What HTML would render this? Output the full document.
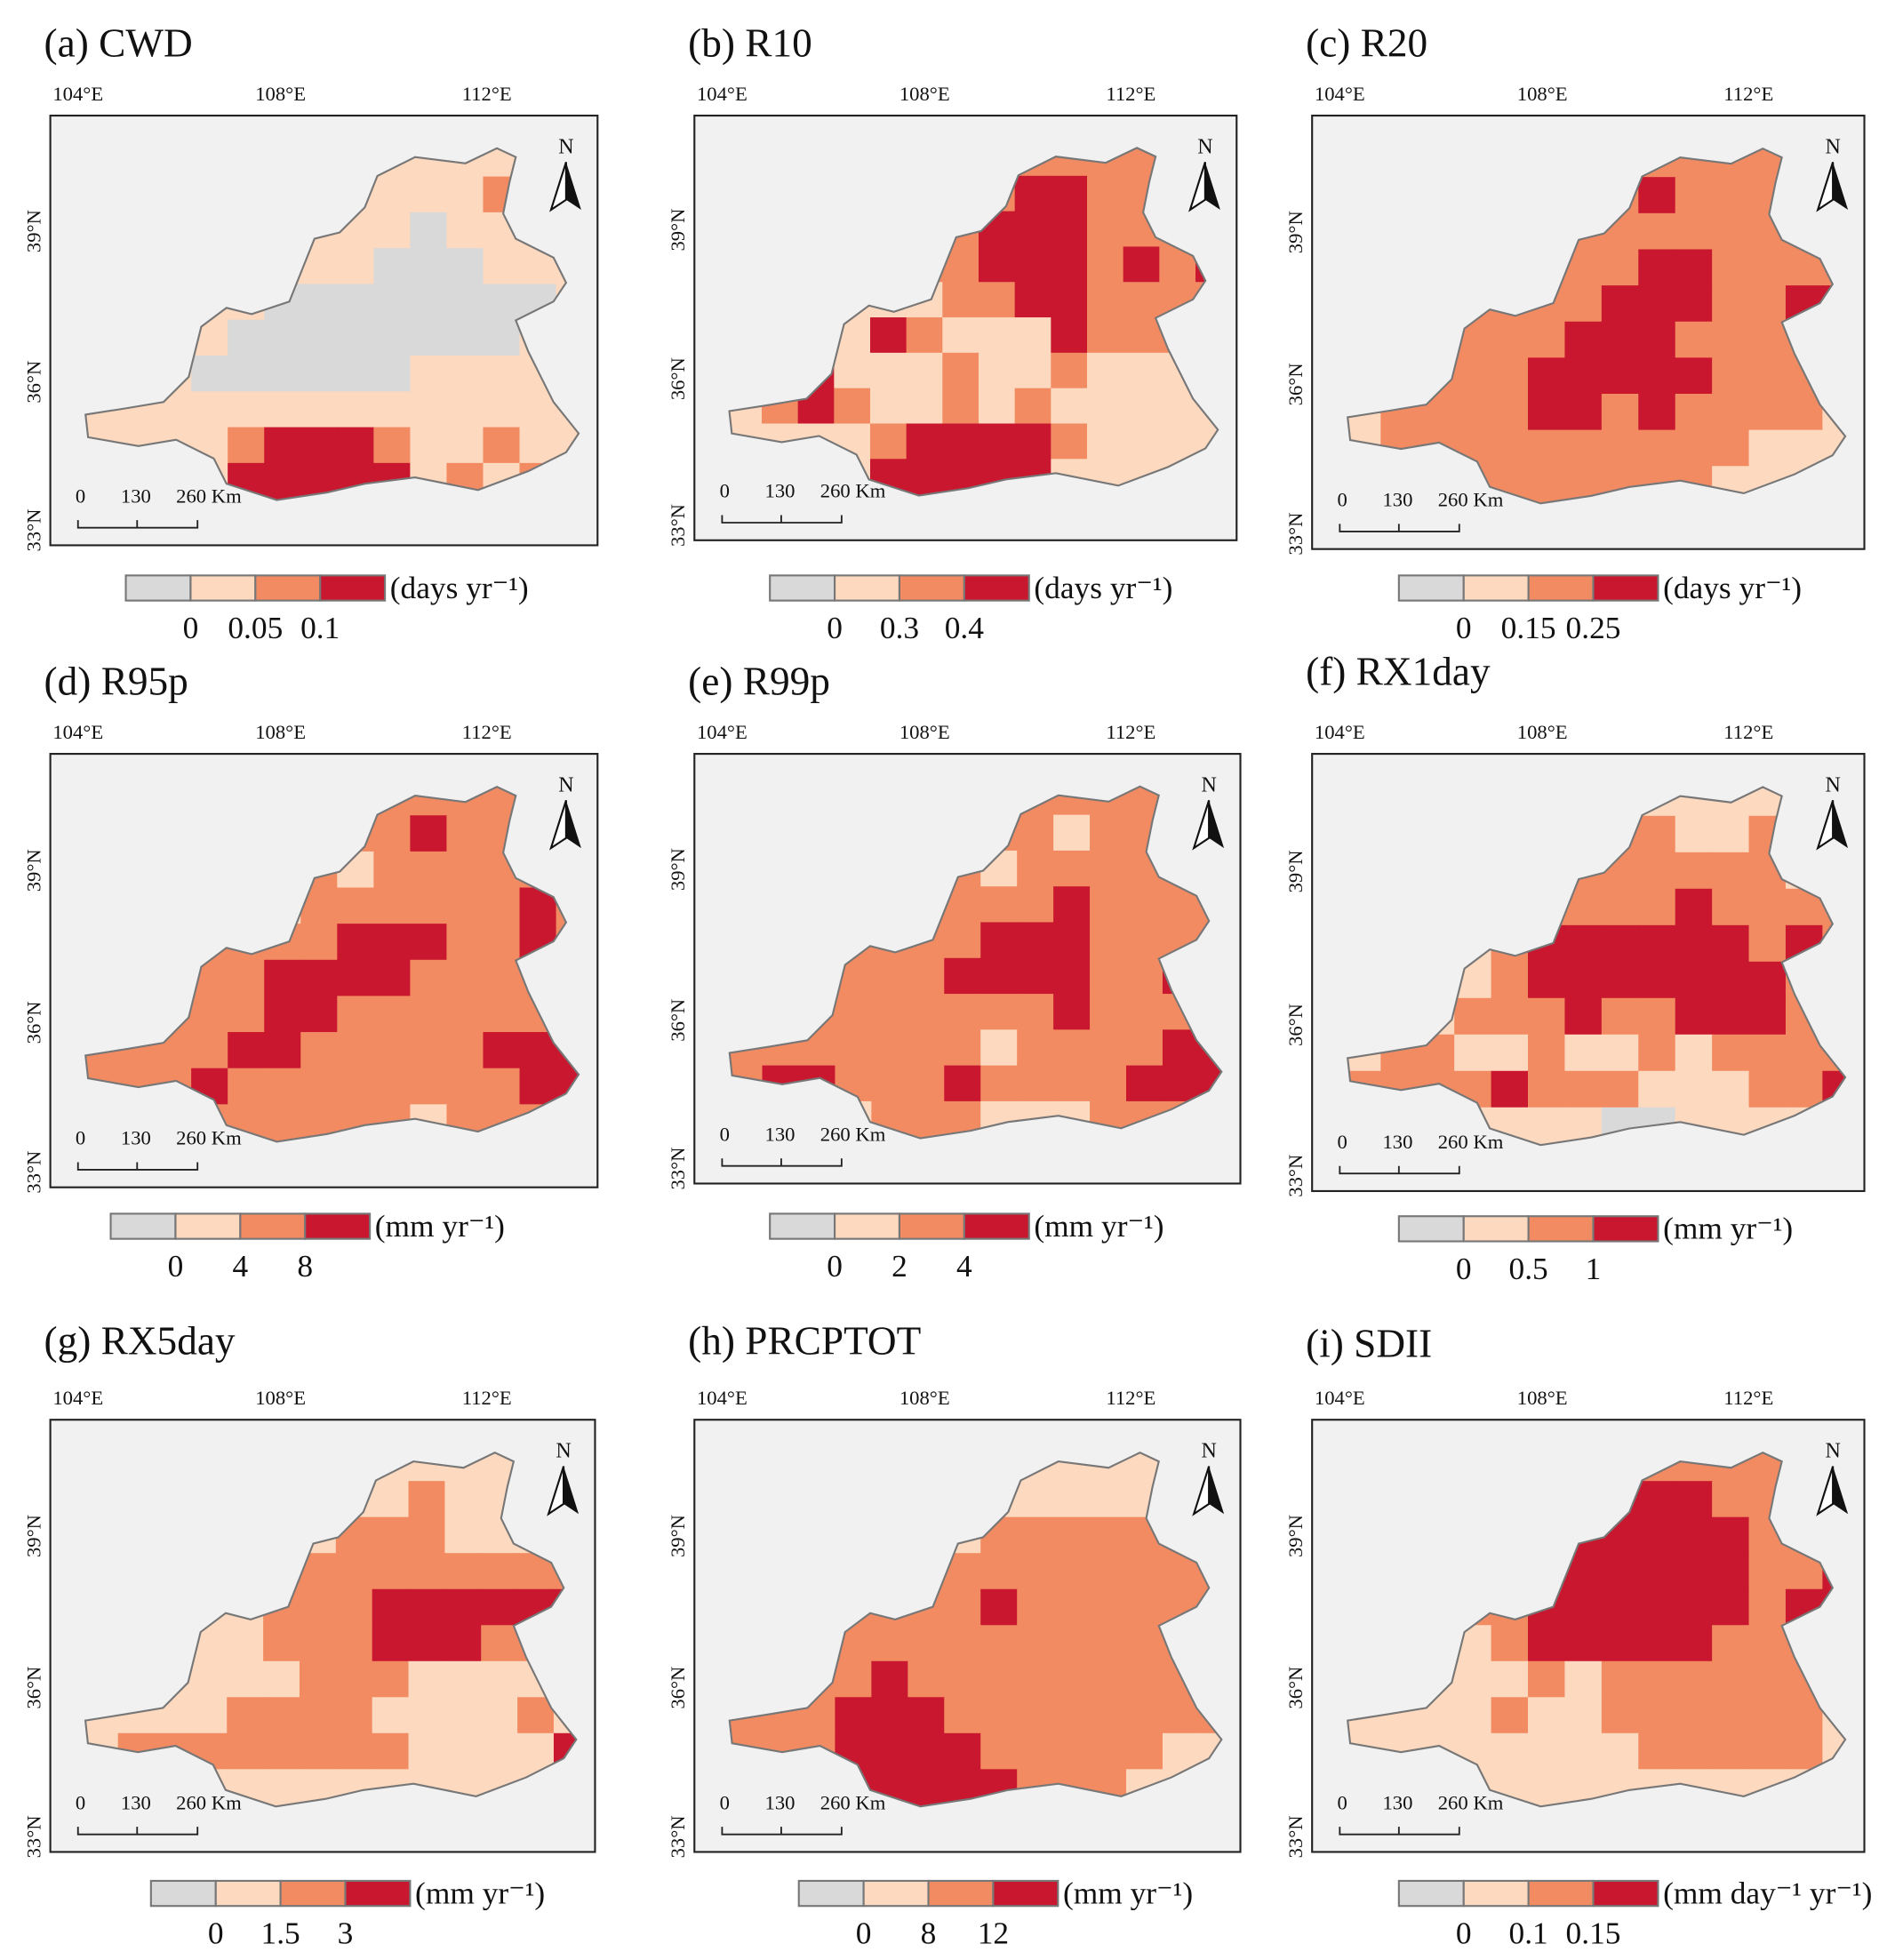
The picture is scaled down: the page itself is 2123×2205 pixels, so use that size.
<!DOCTYPE html>
<html><head><meta charset="utf-8"><style>
html,body{margin:0;padding:0;background:#fff}
svg{display:block}
text{font-family:"Liberation Serif",serif;fill:#111}
</style></head><body>
<svg id="fig" width="2123" height="2205" viewBox="0 0 1500 1560" preserveAspectRatio="none" xmlns="http://www.w3.org/2000/svg"></svg>
<script>
const panelTitles=["(a) CWD","(b) R10","(c) R20","(d) R95p","(e) R99p","(f) RX1day","(g) RX5day","(h) PRCPTOT","(i) SDII"];
const panelUnits=["(days yr⁻¹)","(days yr⁻¹)","(days yr⁻¹)","(mm yr⁻¹)","(mm yr⁻¹)","(mm yr⁻¹)","(mm yr⁻¹)","(mm  yr⁻¹)","(mm day⁻¹ yr⁻¹)"];
const legendTicks=[["0","0.05","0.1"],["0","0.3","0.4"],["0","0.15","0.25"],["0","4","8"],["0","2","4"],["0","0.5","1"],["0","1.5","3"],["0","8","12"],["0","0.1","0.15"]];
const lonTicks=["104°E","108°E","112°E"];
const latTicks=["39°N","36°N","33°N"];
const classGrids=[
["11111111111111","11111111111211","11111111101111","11111111000111","11111000000001","11110000000011","11100000011111","11111111111111","11112333211211","11113333312121"],
["22222222222221","22222222332222","22222223332222","22222223332323","22211122332222","22113211132222","23311121121111","12321121211111","11112333321111","11113333311111"],
["22222222222222","22222222322222","22222222222222","22222222332222","22222223332233","22222233322222","22222333332222","12222332322221","12222222222111","11122222221111"],
["22222222222222","22222222232222","22222221222222","22222122222232","22222223332232","22222333322222","22222332222222","22223322222333","22232222222233","21122222212222"],
["22222222222222","22222222212222","22222221222222","22222222232222","22222223332222","22222233332232","22222222232222","22222221222233","23322232222333","22212221112222"],
["11111111111111","11111112211211","11111122222211","11111222232222","11112333333232","11112333333322","11122232233322","12211211212222","22223222111223","11111110011111"],
["11111111111111","11111111121111","11111112221111","11111222222222","11111222333333","11111222333221","11111122211111","11112222111121","12222222211113","11111111111111"],
["11111111111111","11111111111111","11111112222222","11112222222222","11122223222222","12222222222222","22223222222222","22233322222222","22233332222211","21133333222111"],
["11111112222222","11111223332222","11111233333222","11112333333223","11122333333233","11112333332222","11111212222222","11112112222221","11111111222221","11111111111111"]];
const classColors=["#d9d9d9","#fcd9bf","#f28b62","#c8172e"];
const frames=[[40,92,435,342],[552,92,431,338],[1043,92,439,345],[40,600,435,345],[552,600,434,342],[1043,600,439,348],[40,1130,433,344],[552,1130,434,344],[1043,1130,439,344]];
const legendPos=[[100,458],[612,458],[1112,458],[88,966],[612,966],[1112,968],[120,1497],[635,1497],[1112,1497]];
const titleY=[45,45,45,553,553,545,1078,1078,1080];
const region=[[28,238],[30,256],[70,263],[100,258],[130,273],[140,293],[180,306],[220,300],[250,293],[290,288],[340,298],[380,283],[410,268],[420,253],[400,228],[390,208],[380,188],[370,163],[400,148],[410,133],[400,113],[370,98],[360,78],[365,53],[370,33],[355,26],[330,38],[290,33],[260,48],[250,73],[230,93],[210,98],[200,123],[190,148],[160,158],[140,153],[120,168],[110,208],[90,228],[60,233]];
const NS="http://www.w3.org/2000/svg";
const svg=document.getElementById('fig');
function mk(tag,attrs,parent){const e=document.createElementNS(NS,tag);for(const k in attrs)e.setAttribute(k,attrs[k]);(parent||svg).appendChild(e);return e;}
frames.forEach((f,p)=>{
  const [fx,fy,fw,fh]=f;
  const g=mk('g',{});
  
  
  const t=mk('text',{x:fx-5,y:titleY[p],'font-size':32},g);t.textContent=panelTitles[p];
  
  
  const bg=mk('rect',{x:fx,y:fy,width:fw,height:fh,fill:'#f1f1f1',stroke:'#222','stroke-width':1.5},g);
  
  
  const sx=fw/435, sy=fh/342;
  const pts=region.map(q=>(fx+q[0]*sx)+','+(fy+q[1]*sy)).join(' ');
  const cp=mk('clipPath',{id:'clip'+p},g);mk('polygon',{points:pts},cp);
  const cells=mk('g',{'clip-path':'url(#clip'+p+')'},g);
  
  
  const grid=classGrids[p];const cw=29*sx,ch=28.5*sy;
  grid.forEach((row,j)=>{for(let i=0;i<row.length;i++){
    const c=mk('rect',{x:fx+(25+i*29)*sx,y:fy+(20+j*28.5)*sy,width:cw+0.5,height:ch+0.5,fill:classColors[+row[i]]},cells);
    
    
  }});
  const outline=mk('polygon',{points:pts,fill:'none',stroke:'#777','stroke-width':1.5},g);
  
  
  lonTicks.forEach((s,k)=>{const e=mk('text',{x:fx+[22,183,347][k],y:fy-12,'font-size':16,'text-anchor':'middle'},g);e.textContent=s;
    
    });
  latTicks.forEach((s,k)=>{const yy=fy+[92,212,330][k]*sy;const e=mk('text',{x:fx-8,y:yy,'font-size':16,'text-anchor':'middle',transform:'rotate(-90 '+(fx-8)+' '+yy+')'},g);e.textContent=s;
    
    });
  const sb=mk('g',{},g);
  
  
  [['0',20],['130',56],['260 Km',100]].forEach(a=>{const e=mk('text',{x:fx+a[1],y:fy+fh-34,'font-size':16},sb);e.textContent=a[0];});
  mk('path',{d:`M${fx+22} ${fy+fh-20}v6h95v-6M${fx+69} ${fy+fh-14}v-6`,fill:'none',stroke:'#222','stroke-width':1.3},sb);
  const na=mk('g',{},g);
  
  
  const nx=fx+fw-25,ny=fy+25;
  const nt=mk('text',{x:nx,y:ny+5,'font-size':17,'text-anchor':'middle'},na);nt.textContent='N';
  mk('polygon',{points:`${nx},${ny+12} ${nx-12},${ny+50} ${nx},${ny+42}`,fill:'#fff',stroke:'#111','stroke-width':1.5},na);
  mk('polygon',{points:`${nx},${ny+12} ${nx+12},${ny+50} ${nx},${ny+42}`,fill:'#111'},na);
  const [lx,ly]=legendPos[p];
  const lg=mk('g',{},g);
  
  
  classColors.forEach((c,k)=>mk('rect',{x:lx+k*51.5,y:ly,width:51.5,height:20,fill:c,stroke:'#777','stroke-width':1.5},lg));
  const u=mk('text',{x:lx+210,y:ly+18,'font-size':25},lg);u.textContent=panelUnits[p];
  legendTicks[p].forEach((s,k)=>{const e=mk('text',{x:lx+51.5*(k+1),y:ly+50,'font-size':25,'text-anchor':'middle'},lg);e.textContent=s;});
});
</script>
</body></html>
